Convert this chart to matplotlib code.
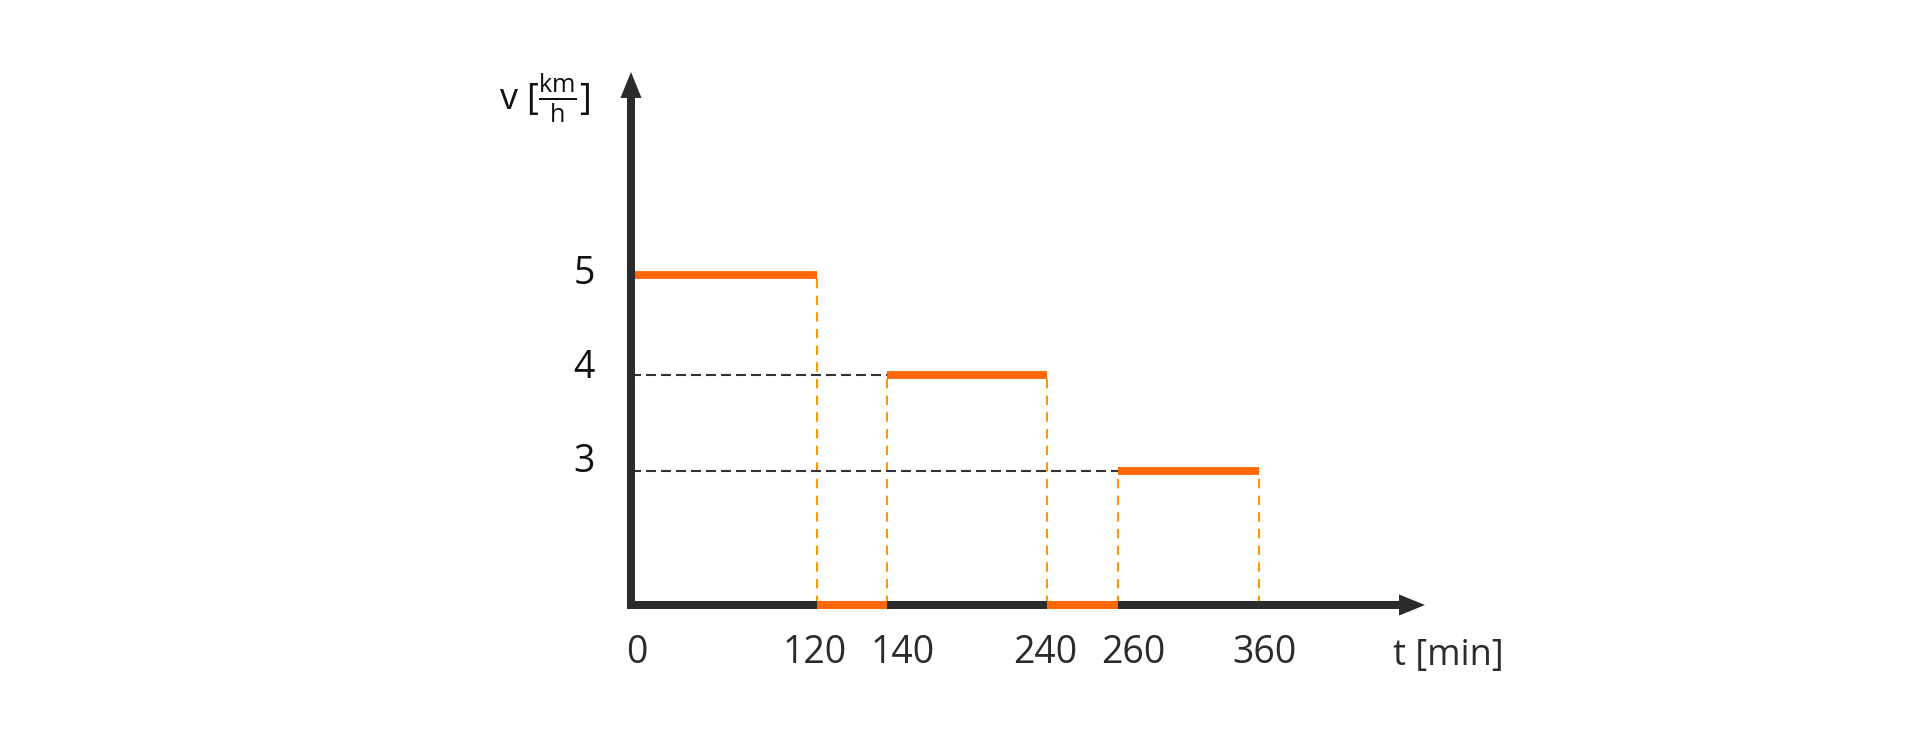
import matplotlib
matplotlib.use("Agg")
import matplotlib.pyplot as plt
import matplotlib.transforms as mtransforms
import numpy as np

plt.rcParams['font.family'] = ['Open Sans', 'DejaVu Sans']
plt.rcParams['mathtext.fontset'] = 'custom'
plt.rcParams['mathtext.rm'] = 'Open Sans'
plt.rcParams['mathtext.it'] = 'Open Sans:italic'

# --- data ---
t_ticks = [0, 120, 140, 240, 260, 360]
v_ticks = [3, 4, 5]
# phases of the trip: start [min], end [min], speed [km/h]
seg_start = [0, 120, 140, 240, 260]
seg_end = [120, 140, 240, 260, 360]
seg_speed = [5, 0, 4, 0, 3]

# --- schematic axis spacing (pixels from origin), not to scale in the original ---
t_warp = [0, 120, 140, 240, 260, 360, 480]
t_px = [0, 186, 256, 416, 487, 628, 794]
v_warp = [0, 3, 4, 5, 8]
v_px = [0, 134, 230, 330, 630]

# label nudges in pixels
xlab_dx = [6, -2, 16, -2, 15, 5]
ylab_dy = [14, 11, 6]

dark = '#2b2b2b'
orange = '#ff6600'
orange_light = '#ff9900'

fig = plt.figure(figsize=(19.2, 7.49), dpi=100)
W, H = 1920, 749
x0, y0 = 631, 605           # origin (px)
wpx, hpx = 768, 508         # axes size up to arrow-head bases
ax = fig.add_axes([x0 / W, (H - y0) / H, wpx / W, hpx / H])

ax.set_xscale('function', functions=(lambda x: np.interp(x, t_warp, t_px),
                                     lambda x: np.interp(x, t_px, t_warp)))
ax.set_yscale('function', functions=(lambda y: np.interp(y, v_warp, v_px),
                                     lambda y: np.interp(y, v_px, v_warp)))
ax.set_xlim(0, np.interp(wpx, t_px, t_warp))
ax.set_ylim(0, np.interp(hpx, v_px, v_warp))

for s in ['top', 'right']:
    ax.spines[s].set_visible(False)
for s in ['left', 'bottom']:
    ax.spines[s].set_linewidth(5.76)
    ax.spines[s].set_color(dark)

lw_dash = 1.5
for s, e, v in zip(seg_start, seg_end, seg_speed):
    # stops lie on the time axis and are drawn over it
    ax.plot([s, e], [v, v], color=orange, lw=5.6 if v > 0 else 5.76,
            solid_capstyle='butt', zorder=2 if v > 0 else 4, clip_on=False)
    if v > 0:
        ax.plot([e, e], [0, v], color=orange_light, lw=lw_dash,
                ls=(0, (4.5, 3.5)), zorder=1)
        if s > 0:
            ax.plot([s, s], [0, v], color=orange_light, lw=lw_dash,
                    ls=(0, (4.5, 3.5)), zorder=1)
            ax.plot([0, s], [v, v], color='#333333', lw=lw_dash,
                    ls=(0, (4.8, 2.4)), zorder=1)

# arrow heads
head = '-|>,head_length=18.7,head_width=7.6'
tip_up = ax.transAxes + mtransforms.ScaledTranslation(0, 0.25, fig.dpi_scale_trans)
ax.annotate('', xy=(0, 1), xycoords=tip_up, xytext=(0, -15), textcoords='offset points',
            arrowprops=dict(arrowstyle=head, mutation_scale=1, lw=0, color=dark,
                            shrinkA=0, shrinkB=0), annotation_clip=False)
tip_right = ax.transAxes + mtransforms.ScaledTranslation(0.26, 0, fig.dpi_scale_trans)
ax.annotate('', xy=(1, 0), xycoords=tip_right, xytext=(-15, 0), textcoords='offset points',
            arrowprops=dict(arrowstyle=head, mutation_scale=1, lw=0, color=dark,
                            shrinkA=0, shrinkB=0), annotation_clip=False)

ax.set_xticks(t_ticks, labels=[str(t) for t in t_ticks])
ax.set_yticks(v_ticks, labels=[str(v) for v in v_ticks])
ax.tick_params(axis='x', length=0, pad=21, labelsize=27, labelcolor=dark)
ax.tick_params(axis='y', length=0, pad=26, labelsize=27, labelcolor='#111111')
ax.minorticks_off()

for lbl, dx in zip(ax.get_xticklabels(), xlab_dx):
    lbl.set_transform(lbl.get_transform() +
                      mtransforms.ScaledTranslation(dx / 100, 0, fig.dpi_scale_trans))
for lbl, dy in zip(ax.get_yticklabels(), ylab_dy):
    lbl.set_transform(lbl.get_transform() +
                      mtransforms.ScaledTranslation(0, dy / 100, fig.dpi_scale_trans))

fig.text(1393 / W, 1 - 665 / H, 't [min]', ha='left', va='baseline',
         fontsize=26, color=dark)
fig.text(590 / W, 1 - 110 / H, r'v $[\frac{\mathrm{km}}{\mathrm{h}}]$',
         ha='right', va='baseline', fontsize=26, color='#111111')

fig.savefig('out.png', dpi=100)
